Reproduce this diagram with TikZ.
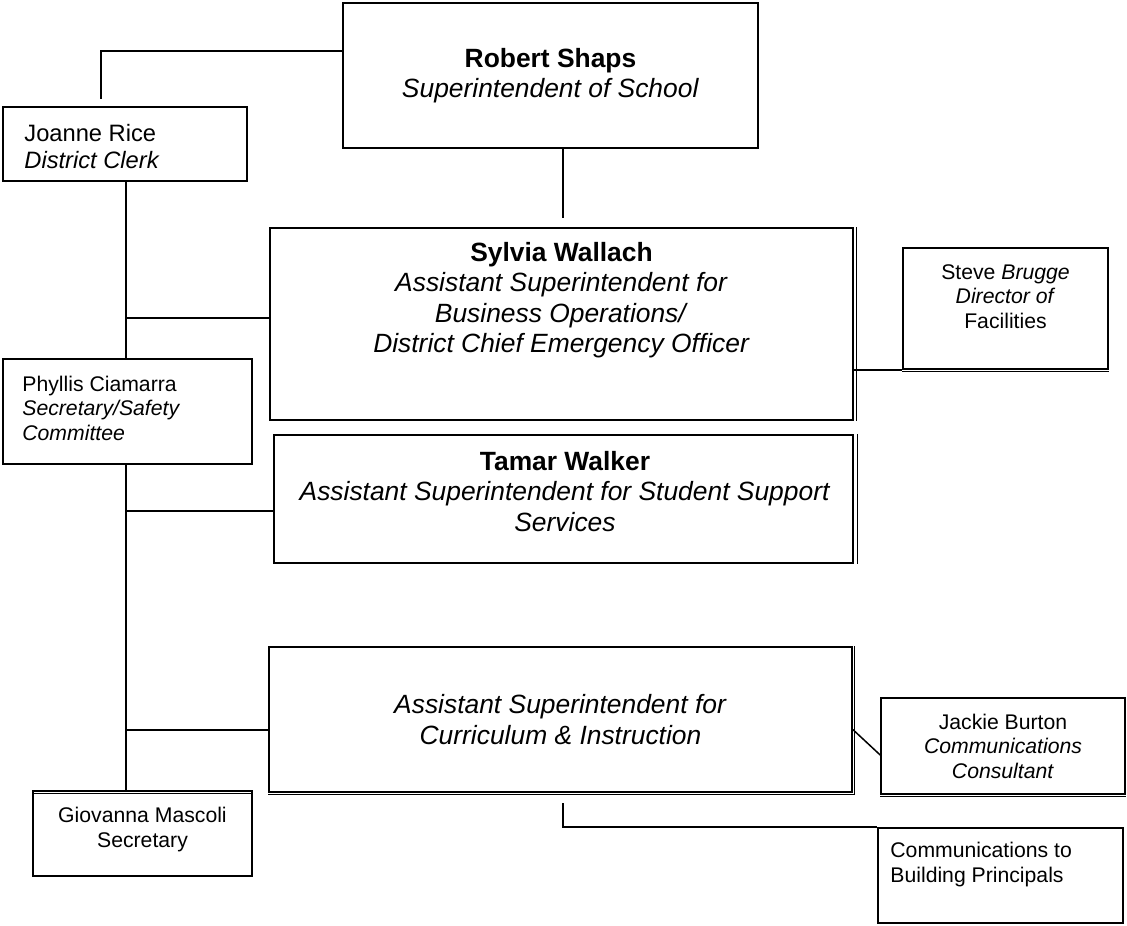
\documentclass[tikz,border=0pt]{standalone}
\usepackage{fontspec}
\setmainfont{Liberation Sans}
\usetikzlibrary{positioning,calc}

\newcommand{\bigtxt}{\fontsize{26.4}{30.5}\selectfont}
\newcommand{\midtxt}{\fontsize{23.7}{27}\selectfont}
\newcommand{\smalltxt}{\fontsize{21.2}{24.5}\selectfont}

\tikzset{
  box/.style 2 args={draw,line width=1.6pt,inner sep=0pt,
    minimum width=#1pt,minimum height=#2pt},
  link/.style={line width=1.5pt},
  ghost/.style={line width=1pt},
  txt/.style={inner sep=0pt,align=center}
}

\begin{document}
\begin{tikzpicture}[x=1pt,y=-1pt]
  \useasboundingbox (0,0) rectangle (1127,926);

  % boxes
  \node[box={415}{145}] (shaps) at (550.5,75.5) {};
  \node[box={244}{74}] (rice) at (125,144) {};
  \node[box={583}{192}] (wallach) at (561.5,324) {};
  \node[box={205}{121}] (brugge) at (1005.5,308.5) {};
  \node[box={249}{105}] (ciamarra) at (127.5,411.5) {};
  \node[box={579}{128}] (walker) at (563.5,499) {};
  \node[box={583}{145}] (curric) at (560.5,719.5) {};
  \node[box={244}{96}] (burton) at (1003,746) {};
  \node[box={219}{85}] (mascoli) at (142.5,833.5) {};
  \node[box={245}{95}] (principals) at (1000.5,875.5) {};

  % texts
  \node[txt,font=\bigtxt] (shapsT) at (shaps)
    {\textbf{Robert Shaps}\\\textit{Superintendent of School}};
  \node[txt,font=\midtxt,align=left,anchor=west] (riceT)
    at ([xshift=22pt,yshift=-2.5pt]rice.west)
    {Joanne Rice\\\textit{District Clerk}};
  \node[txt,font=\bigtxt] (wallachT) at ([yshift=24pt]wallach.center)
    {\textbf{Sylvia Wallach}\\\textit{Assistant Superintendent for}\\
     \textit{Business Operations/}\\\textit{District Chief Emergency Officer}};
  \node[txt,font=\smalltxt] (bruggeT) at ([yshift=12pt]brugge.center)
    {Steve \textit{Brugge}\\\textit{Director of}\\Facilities};
  \node[txt,font=\smalltxt,align=left,anchor=west] (ciamarraT)
    at ([xshift=20pt,yshift=3.5pt]ciamarra.west)
    {Phyllis Ciamarra\\\textit{Secretary/Safety}\\\textit{Committee}};
  \node[txt,font=\bigtxt] (walkerT) at ([xshift=1.5pt,yshift=7.5pt]walker.center)
    {\textbf{Tamar Walker}\\\textit{Assistant Superintendent for Student Support}\\
     \textit{Services}};
  \node[txt,font=\bigtxt] (curricT) at (curric)
    {\textit{Assistant Superintendent for}\\\textit{Curriculum \& Instruction}};
  \node[txt,font=\smalltxt] (burtonT) at (burton)
    {Jackie Burton\\\textit{Communications}\\\textit{Consultant}};
  \node[txt,font=\smalltxt] (mascoliT) at ([yshift=4pt]mascoli.center)
    {Giovanna Mascoli\\Secretary};
  \node[txt,font=\smalltxt,align=left,anchor=west] (principalsT)
    at ([xshift=13pt,yshift=11pt]principals.west)
    {Communications to\\Building Principals};

  % doubled edges
  \draw[ghost] ([xshift=3pt]wallach.north east) -- ([xshift=3pt]wallach.south east);
  \draw[ghost] ([xshift=4pt]walker.north east) -- ([xshift=4pt]walker.south east);
  \draw[ghost] ([yshift=-3pt]mascoli.north west) -- ([yshift=-3pt]mascoli.north east);
  \draw[ghost] ([yshift=-2pt]curric.south west) -- ([yshift=-2pt,xshift=2pt]curric.south east)
    -- ([xshift=2pt]curric.north east);
  \draw[ghost] ([yshift=-2pt]burton.south west) -- ([yshift=-2pt]burton.south east);
  \draw[ghost] ([yshift=-2pt]brugge.south west) -- ([yshift=-2pt]brugge.south east);

  % connectors
  \coordinate (tl) at (101,51);
  \coordinate (tlEnd) at (101,99);
  \coordinate (sdrop) at (563,218);
  \coordinate (tx) at (126,0);
  \coordinate (b1) at (126,318);
  \coordinate (b2) at (126,511);
  \coordinate (b3) at (126,730);
  \coordinate (cdrop) at (563,803);

  \draw[link] (shaps.west |- tl) -| (tlEnd);
  \draw[link] (shaps.south -| sdrop) -- (sdrop);
  \draw[link] (rice.south -| tx) -- (ciamarra.north -| tx);
  \draw[link] (ciamarra.south -| tx) -- (mascoli.north -| tx);
  \draw[link] (b1) -- (b1 -| wallach.west);
  \draw[link] (b2) -- (b2 -| walker.west);
  \draw[link] (b3) -- (b3 -| curric.west);
  \draw[link] (wallach.east |- brugge.south) -- (brugge.south west);
  \draw[link] ([yshift=-10pt]curric.east) -- ([yshift=-9pt]burton.west);
  \draw[link] (cdrop) |- (principals.north west);
\end{tikzpicture}
\end{document}
